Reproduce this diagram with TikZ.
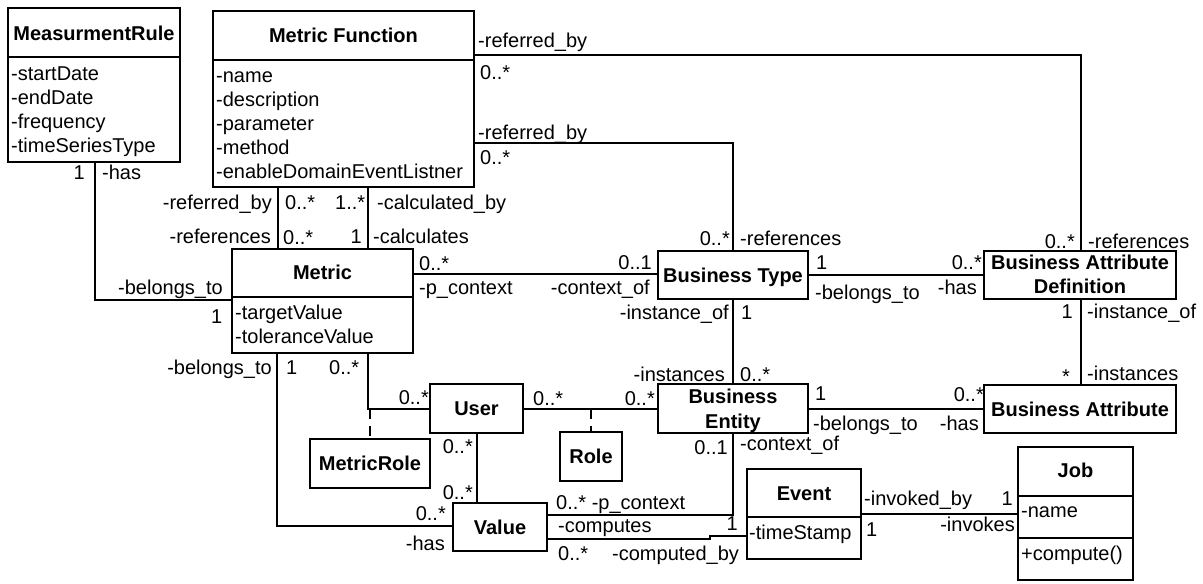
\documentclass[tikz,border=0pt]{standalone}
\usepackage{fontspec}
\setmainfont{Liberation Sans}
\usetikzlibrary{fit}
\begin{document}
\begin{tikzpicture}[x=1pt,y=-1pt,
 box/.style={draw, line width=2.2pt, inner sep=0pt},
 divider/.style={line width=2.2pt},
 conn/.style={line width=1.3pt},
 assoc/.style={line width=1.3pt, dash pattern=on 10pt off 7pt},
 lab/.style={inner sep=0pt, anchor=base west, font=\fontsize{20}{24}\selectfont},
 labr/.style={lab, anchor=base east},
 ttl/.style={inner sep=0pt, anchor=base, font=\fontsize{20}{24}\selectfont\bfseries},
]
\fill[white] (0,0) rectangle (1203,584);
\useasboundingbox (0,0) rectangle (1203,584);

% ---------- boxes ----------
\node[box, fit={(8,8) (180,162)}] (mr) {};
\node[box, fit={(213,11) (474,187)}] (mf) {};
\node[box, fit={(232,249) (413,353)}] (metric) {};
\node[box, fit={(310,439) (430,488)}] (mrole) {};
\node[box, fit={(430,384) (523,433)}] (user) {};
\node[box, fit={(560,432) (622,481)}] (role) {};
\node[box, fit={(453,503) (547,551)}] (value) {};
\node[box, fit={(658,251) (808,299)}] (bt) {};
\node[box, fit={(658,384) (808,433)}] (be) {};
\node[box, fit={(984,251) (1176,299)}] (bad) {};
\node[box, fit={(984,385) (1176,433)}] (ba) {};
\node[box, fit={(747,469) (861,559)}] (event) {};
\node[box, fit={(1018,447) (1133,580)}] (job) {};

% dividers
\draw[divider] (mr.west |- 0,57) -- (mr.east |- 0,57);
\draw[divider] (mf.west |- 0,60) -- (mf.east |- 0,60);
\draw[divider] (metric.west |- 0,297) -- (metric.east |- 0,297);
\draw[divider] (event.west |- 0,517) -- (event.east |- 0,517);
\draw[divider] (job.west |- 0,496) -- (job.east |- 0,496);
\draw[divider] (job.west |- 0,538) -- (job.east |- 0,538);

% ---------- titles ----------
\node[ttl] (tmr) at (94,40) {MeasurmentRule};
\node[ttl] (tmf) at (343.5,42) {Metric Function};
\node[ttl] (tmetric) at (322.5,279) {Metric};
\node[ttl] (tmrole) at (370,470) {MetricRole};
\node[ttl] (tuser) at (476.5,415) {User};
\node[ttl] (trole) at (591,463) {Role};
\node[ttl] (tvalue) at (500,534) {Value};
\node[ttl] (tbt) at (733,282) {Business Type};
\node[ttl] (tbe1) at (733,403) {Business};
\node[ttl] (tbe2) at (733,428) {Entity};
\node[ttl] (tbad1) at (1080,269) {Business Attribute};
\node[ttl] (tbad2) at (1080,293) {Definition};
\node[ttl] (tba) at (1080,416) {Business Attribute};
\node[ttl] (tevent) at (804,500) {Event};
\node[ttl] (tjob) at (1075.5,477) {Job};

% ---------- attributes ----------
\node[lab] (a1) at (11,80) {-startDate};
\node[lab] (a2) at (11,104) {-endDate};
\node[lab] (a3) at (11,128) {-frequency};
\node[lab] (a4) at (11,152) {-timeSeriesType};
\node[lab] (a5) at (216,82) {-name};
\node[lab] (a6) at (216,106) {-description};
\node[lab] (a7) at (216,130) {-parameter};
\node[lab] (a8) at (216,154) {-method};
\node[lab] (a9) at (216,178) {-enableDomainEventListner};
\node[lab] (a10) at (235,319) {-targetValue};
\node[lab] (a11) at (235,343) {-toleranceValue};
\node[lab] (a12) at (749,539) {-timeStamp};
\node[lab] (a13) at (1021,517) {-name};
\node[lab] (a14) at (1021,560) {+compute()};

% ---------- connectors ----------
\draw[conn] (mr.south -| 95,0) |- (metric.west |- 0,300);
\draw[conn] (mf.south -| 278,0) -- (metric.north -| 278,0);
\draw[conn] (mf.south -| 368,0) -- (metric.north -| 368,0);
\draw[conn] (mf.east |- 0,55) -| (bad.north -| 1081,0);
\draw[conn] (mf.east |- 0,143) -| (bt.north -| 733,0);
\draw[conn] (metric.east |- 0,274) -- (bt.west |- 0,274);
\draw[conn] (bt.east |- 0,275) -- (bad.west |- 0,275);
\draw[conn] (bt.south -| 733,0) -- (be.north -| 733,0);
\draw[conn] (bad.south -| 1081,0) -- (ba.north -| 1081,0);
\draw[conn] (be.east |- 0,409) -- (ba.west |- 0,409);
\draw[conn] (user.east |- 0,409) -- (be.west |- 0,409);
\coordinate (urole) at (591,409);
\draw[assoc] (urole) -- (role.north -| urole);
\draw[conn] (metric.south -| 368,0) |- (user.west |- 0,409);
\coordinate (umrole) at (370,409);
\draw[assoc] (umrole) -- (mrole.north -| umrole);
\draw[conn] (metric.south -| 277,0) |- (value.west |- 0,526);
\draw[conn] (user.south -| 477,0) -- (value.north -| 477,0);
\draw[conn] (be.south -| 733,0) |- (value.east |- 0,515);
\draw[conn] (value.east |- 0,539) -- (710,539) -- (710,536) -- (event.west |- 0,536);
\draw[conn] (event.east |- 0,514) -- (job.west |- 0,514);

% ---------- connector labels ----------
\node[labr] (l1) at (85,179) {1};
\node[lab] (l2) at (102,179) {-has};
\node[lab] (l3) at (118,294) {-belongs\_to};
\node[lab] (l4) at (211,323) {1};
\node[labr] (l5) at (272,209) {-referred\_by};
\node[lab] (l6) at (285,209) {0..*};
\node[lab] (l7) at (335,209) {1..*};
\node[lab] (l8) at (377,209) {-calculated\_by};
\node[labr] (l9) at (271,243) {-references};
\node[lab] (l10) at (283,244) {0..*};
\node[labr] (l11) at (362,243) {1};
\node[lab] (l12) at (373,243) {-calculates};
\node[lab] (l13) at (478,47) {-referred\_by};
\node[lab] (l14) at (480,79) {0..*};
\node[lab] (l15) at (478,139) {-referred\_by};
\node[lab] (l16) at (480,164) {0..*};
\node[labr] (l17) at (730,245) {0..*};
\node[lab] (l18) at (740,245) {-references};
\node[labr] (l19) at (1075,248) {0..*};
\node[lab] (l20) at (1088,248) {-references};
\node[lab] (l21) at (419,270) {0..*};
\node[lab] (l22) at (419,294) {-p\_context};
\node[labr] (l23) at (652,269) {0..1};
\node[labr] (l24) at (650,294) {-context\_of};
\node[labr] (l25) at (729,319) {-instance\_of};
\node[lab] (l26) at (741,319) {1};
\node[labr] (l27) at (725,381) {-instances};
\node[lab] (l28) at (740,381) {0..*};
\node[lab] (l29) at (816,269) {1};
\node[lab] (l30) at (815,299) {-belongs\_to};
\node[labr] (l31) at (982,269) {0..*};
\node[labr] (l32) at (977,294) {-has};
\node[labr] (l33) at (1073,318) {1};
\node[lab] (l34) at (1087,318) {-instance\_of};
\node[labr] (l35) at (1070,383) {*};
\node[lab] (l36) at (1087,380) {-instances};
\node[lab] (l37) at (815,400) {1};
\node[lab] (l38) at (813,430) {-belongs\_to};
\node[labr] (l39) at (984,401) {0..*};
\node[labr] (l40) at (979,430) {-has};
\node[labr] (l41) at (728,454) {0..1};
\node[lab] (l42) at (740,450) {-context\_of};
\node[lab] (l43) at (556,509) {0..* -p\_context};
\node[lab] (l44) at (558,532) {-computes};
\node[labr] (l45) at (738,530) {1};
\node[lab] (l46) at (558,560) {0..*};
\node[lab] (l47) at (612,560) {-computed\_by};
\node[labr] (l48) at (272,374) {-belongs\_to};
\node[lab] (l49) at (286,374) {1};
\node[lab] (l50) at (329,374) {0..*};
\node[labr] (l51) at (429,404) {0..*};
\node[lab] (l52) at (533,405) {0..*};
\node[labr] (l53) at (655,405) {0..*};
\node[labr] (l54) at (473,453) {0..*};
\node[labr] (l55) at (473,499) {0..*};
\node[labr] (l56) at (446,520) {0..*};
\node[labr] (l57) at (445,550) {-has};
\node[lab] (l58) at (864,505) {-invoked\_by};
\node[labr] (l59) at (1013,505) {1};
\node[lab] (l60) at (866,536) {1};
\node[labr] (l61) at (1015,531) {-invokes};
\end{tikzpicture}
\end{document}
